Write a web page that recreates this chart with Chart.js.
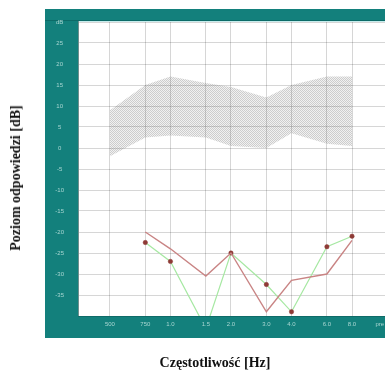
<!DOCTYPE html>
<html>
<head>
<meta charset="utf-8">
<script src="https://cdn.jsdelivr.net/npm/chart.js@4"></script>
<style>
  html, body { margin: 0; padding: 0; background: #fff; }
  #wrap { position: relative; width: 385px; height: 376px; overflow: hidden; }
  #chart { position: absolute; left: 0; top: 0; }
  .axis-title {
    position: absolute;
    font: bold 14px "Liberation Serif", "Times New Roman", serif;
    color: #111;
    white-space: nowrap;
  }
  #yTitle { left: 16px; top: 178px; transform: translate(-50%, -50%) rotate(-90deg); }
  #xTitle { left: 215px; top: 363px; transform: translate(-50%, -50%); }
</style>
</head>
<body>
<div id="wrap">
  <canvas id="chart" width="385" height="376"></canvas>
  <div class="axis-title" id="yTitle">Poziom odpowiedzi [dB]</div>
  <div class="axis-title" id="xTitle">Częstotliwość [Hz]</div>
</div>
<script>
// frequencies on the axis (Hz) and their labels
const freqs = [500, 750, 1000, 1500, 2000, 3000, 4000, 6000, 8000];
const freqTicks = [500, 750, 1000, 1500, 2000, 3000, 4000, 6000, 8000, 11000];
const freqLabels = ['500', '750', '1.0', '1.5', '2.0', '3.0', '4.0', '6.0', '8.0', 'pre'];

// reference band (upper / lower edge, dB)
const normUpper = [9, 15, 17, 15.5, 14.5, 12, 15, 17, 17];
const normLower = [-2, 2.5, 3, 2.5, 0.5, 0, 3.5, 1, 0.5];

// measured responses (dB)
const lineFreqs = [750, 1000, 1500, 2000, 3000, 4000, 6000, 8000];
const redLine = [-20, -24, -30.5, -25, -39, -31.5, -30, -22];
const greenLine = [-22.5, -27, -43, -25, -32.5, -39, -23.5, -21];

const TEAL = '#13807c';
const LABEL = '#a9d6d2';
const GRID = 'rgba(0,0,0,0.16)';

const pts = (xs, ys) => xs.map((x, i) => ({ x, y: ys[i] }));

const canvas = document.getElementById('chart');
const ctx = canvas.getContext('2d');

// dotted fill for the band
function makeHatch() {
  const c = document.createElement('canvas');
  c.width = 2; c.height = 2;
  const g = c.getContext('2d');
  g.fillStyle = 'rgba(120,120,120,0.10)';
  g.fillRect(0, 0, 2, 2);
  g.fillStyle = 'rgba(110,110,110,0.28)';
  g.fillRect(0, 0, 1, 1);
  g.fillRect(1, 1, 1, 1);
  return ctx.createPattern(c, 'repeat');
}

// teal frame around the plot area
const frame = {
  id: 'frame',
  beforeDraw(chart) {
    const { ctx, chartArea: a, width } = chart;
    ctx.save();
    ctx.fillStyle = TEAL;
    ctx.fillRect(a.left - 33, a.top - 13, width - a.left + 33, a.bottom - a.top + 35);
    ctx.fillStyle = '#0c6b68';
    ctx.fillRect(a.left - 33, a.top - 2, width - a.left + 33, 1);
    ctx.fillStyle = '#fff';
    ctx.fillRect(a.left, a.top, width - a.left, a.bottom - a.top);
    ctx.restore();
  },
  beforeDatasetsDraw(chart) {
    const { ctx, chartArea: a, width } = chart;
    ctx.save();
    ctx.fillStyle = '#c6ecec';
    ctx.fillRect(a.left, a.top - 1, width - a.left, 1);
    ctx.fillStyle = '#6f8f8e';
    ctx.fillRect(a.left, a.top - 1, 1, a.bottom - a.top + 1);
    ctx.restore();
  }
};

new Chart(canvas, {
  type: 'line',
  data: {
    datasets: [
      {
        data: pts(lineFreqs, redLine),
        borderColor: '#c98484',
        borderWidth: 1.4,
        pointRadius: 0,
        fill: false,
        order: 1
      },
      {
        data: pts(lineFreqs, greenLine),
        borderColor: '#a6e8a2',
        borderWidth: 1.2,
        pointRadius: 2.2,
        pointBackgroundColor: '#8e3a36',
        pointBorderColor: '#8e3a36',
        pointBorderWidth: 0.5,
        fill: false,
        order: 2
      },
      {
        data: pts(freqs, normUpper),
        borderWidth: 0,
        borderColor: 'rgba(0,0,0,0)',
        pointRadius: 0,
        fill: false,
        order: 3
      },
      {
        data: pts(freqs, normLower),
        borderWidth: 0,
        borderColor: 'rgba(0,0,0,0)',
        pointRadius: 0,
        fill: '-1',
        backgroundColor: makeHatch(),
        order: 3
      }
    ]
  },
  options: {
    responsive: false,
    animation: false,
    devicePixelRatio: 1,
    // plot runs right up to the canvas edge
    layout: { autoPadding: false, padding: { top: 22, right: 0, bottom: 0, left: 0 } },
    elements: { line: { tension: 0 } },
    plugins: { legend: { display: false }, tooltip: { enabled: false } },
    scales: {
      x: {
        type: 'logarithmic',
        min: 347,
        max: 11670,
        bounds: 'data',
        afterBuildTicks: s => { s.ticks = freqTicks.map(v => ({ value: v })); },
        afterFit: s => { s.height = 60; s.paddingLeft = 0; s.paddingRight = 0; },
        border: { display: false },
        grid: {
          drawTicks: false,
          color: c => (c.tick && c.tick.value > 8000) ? 'rgba(0,0,0,0)' : GRID
        },
        ticks: {
          autoSkip: false,
          maxRotation: 0,
          padding: 5,
          color: LABEL,
          font: { family: 'Liberation Sans', size: 6 },
          callback: (v, i) => freqLabels[i]
        }
      },
      y: {
        min: -40,
        max: 30,
        afterFit: s => { s.width = 78; },
        border: { display: false },
        grid: { drawTicks: false, color: GRID },
        ticks: {
          stepSize: 5,
          crossAlign: 'center',
          padding: 14,
          color: LABEL,
          font: { family: 'Liberation Sans', size: 6 },
          callback: v => v === 30 ? 'dB' : v === -40 ? '' : v
        }
      }
    }
  },
  plugins: [frame]
});
</script>
</body>
</html>
